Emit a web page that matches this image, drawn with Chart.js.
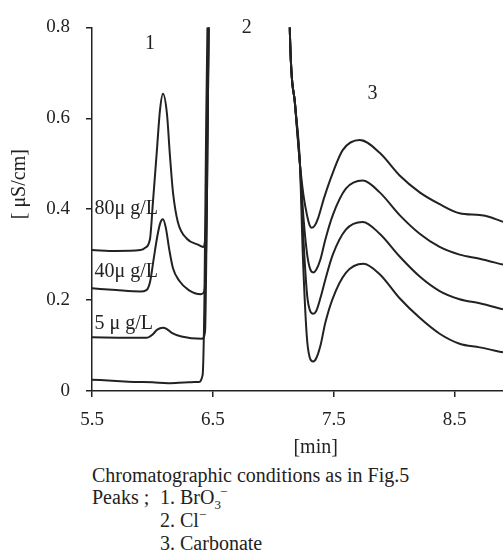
<!DOCTYPE html>
<html>
<head>
<meta charset="utf-8">
<script src="https://cdn.jsdelivr.net/npm/chart.js@4.4.0/dist/chart.umd.min.js"></script>
<style>
  body { margin: 0; background: #fff; }
  #wrap { position: relative; width: 503px; height: 553px; font-family: "Liberation Serif", "DejaVu Serif", serif; color: #222; }
  #chart { position: absolute; left: 0; top: 0; }
  .cap { position: absolute; font-size: 20px; line-height: 22px; white-space: nowrap; }
  .cap sub, .cap sup { font-size: 13px; line-height: 0; }
</style>
</head>
<body>
<div id="wrap">
  <canvas id="chart" width="503" height="460"></canvas>
  <div class="cap" style="left:92px; top:464px;">Chromatographic conditions as in Fig.5</div>
  <div class="cap" style="left:92px; top:486px;">Peaks ;</div>
  <div class="cap" style="left:160px; top:486px;">1. BrO<sub>3</sub><sup style="margin-left:-1px;">−</sup></div>
  <div class="cap" style="left:160px; top:509px;">2. Cl<sup>−</sup></div>
  <div class="cap" style="left:160px; top:532px;">3. Carbonate</div>
</div>
<script>
// retention time [min] and conductivity [uS/cm]
// values above 0.8 are the off-scale chloride peak
const tBlank = [5.5, 5.7, 5.85, 6.0, 6.13, 6.3, 6.38, 6.415, 6.43, 6.445, 6.46, 6.5,
  7.1, 7.136, 7.18, 7.22, 7.244, 7.277, 7.3, 7.33, 7.355, 7.39, 7.43, 7.492, 7.6, 7.745, 7.88, 8.045, 8.211, 8.376, 8.541, 8.707, 8.9];
const yBlank = [0.025, 0.022, 0.02, 0.019, 0.017, 0.019, 0.02, 0.035, 0.2, 0.6, 0.9, 1.5,
  1.5, 0.8, 0.63, 0.5, 0.3, 0.12, 0.075, 0.065, 0.072, 0.1, 0.15, 0.204, 0.26, 0.28, 0.257, 0.204, 0.161, 0.126, 0.104, 0.096, 0.085];

const t5 = [5.5, 5.8, 5.95, 6.0, 6.04, 6.087, 6.12, 6.16, 6.24, 6.41, 6.435, 6.45, 6.465, 6.5,
  7.1, 7.136, 7.18, 7.22, 7.25, 7.28, 7.305, 7.33, 7.355, 7.39, 7.43, 7.492, 7.6, 7.74, 7.88, 8.045, 8.211, 8.376, 8.541, 8.707, 8.9];
const y5 = [0.118, 0.117, 0.117, 0.124, 0.135, 0.139, 0.136, 0.128, 0.12, 0.115, 0.13, 0.4, 0.8, 1.5,
  1.5, 0.8, 0.63, 0.5, 0.33, 0.21, 0.176, 0.17, 0.176, 0.205, 0.245, 0.3, 0.355, 0.372, 0.346, 0.296, 0.252, 0.22, 0.202, 0.193, 0.18];

const t40 = [5.5, 5.7, 5.9, 5.95, 5.98, 6.01, 6.04, 6.065, 6.087, 6.11, 6.14, 6.17, 6.22, 6.3, 6.4, 6.43, 6.45, 6.465, 6.5,
  7.1, 7.136, 7.18, 7.22, 7.25, 7.28, 7.305, 7.33, 7.355, 7.39, 7.43, 7.492, 7.6, 7.74, 7.88, 8.045, 8.211, 8.376, 8.541, 8.707, 8.9];
const y40 = [0.226, 0.222, 0.219, 0.222, 0.24, 0.29, 0.34, 0.37, 0.378, 0.36, 0.31, 0.27, 0.243, 0.222, 0.213, 0.22, 0.4, 0.8, 1.5,
  1.5, 0.8, 0.63, 0.5, 0.38, 0.3, 0.268, 0.261, 0.267, 0.29, 0.333, 0.387, 0.445, 0.463, 0.437, 0.387, 0.346, 0.317, 0.3, 0.291, 0.278];

const t80 = [5.5, 5.7, 5.9, 5.94, 5.98, 6.004, 6.037, 6.062, 6.087, 6.12, 6.145, 6.17, 6.21, 6.285, 6.376, 6.42, 6.44, 6.455, 6.47, 6.5,
  7.1, 7.136, 7.18, 7.22, 7.25, 7.28, 7.3, 7.316, 7.34, 7.37, 7.42, 7.492, 7.574, 7.715, 7.88, 8.045, 8.211, 8.376, 8.541, 8.707, 8.789, 8.9];
const y80 = [0.31, 0.308, 0.31, 0.315, 0.335, 0.415, 0.53, 0.617, 0.654, 0.61, 0.517, 0.437, 0.372, 0.335, 0.322, 0.317, 0.35, 0.6, 0.9, 1.5,
  1.5, 0.8, 0.63, 0.5, 0.43, 0.385, 0.365, 0.359, 0.363, 0.38, 0.425, 0.48, 0.53, 0.552, 0.524, 0.474, 0.437, 0.411, 0.391, 0.387, 0.383, 0.372];

const xTicks = [5.5, 6.5, 7.5, 8.5];
const yTicks = [0, 0.2, 0.4, 0.6, 0.8];

const INK = '#222';
const SERIF = '"Liberation Serif", "DejaVu Serif", serif';

// text placed in data coordinates
const labels = [
  { text: '1', x: 5.98, y: 0.763, align: 'center' },
  { text: '2', x: 6.78, y: 0.8, align: 'center' },
  { text: '3', x: 7.82, y: 0.654, align: 'center' },
  { text: '80\u03bc g/L', x: 5.52, y: 0.402, align: 'left' },
  { text: '40\u03bc g/L', x: 5.52, y: 0.263, align: 'left' },
  { text: '5 \u03bc g/L', x: 5.52, y: 0.148, align: 'left' }
];

function toPoints(ts, ys) {
  return ts.map((t, i) => ({ x: t, y: ys[i] }));
}

function trace(ts, ys) {
  return {
    data: toPoints(ts, ys),
    borderColor: INK,
    borderWidth: 2,
    pointRadius: 0,
    cubicInterpolationMode: 'monotone',
    clip: 0
  };
}

const textPlugin = {
  id: 'textLabels',
  afterDraw(chart) {
    const ctx = chart.ctx;
    const xs = chart.scales.x, ys = chart.scales.y;
    ctx.save();
    ctx.fillStyle = INK;
    ctx.font = '20px ' + SERIF;
    ctx.textBaseline = 'middle';
    labels.forEach(l => {
      ctx.textAlign = l.align;
      ctx.fillText(l.text, xs.getPixelForValue(l.x), ys.getPixelForValue(l.y));
    });
    // axis titles
    ctx.textAlign = 'center';
    ctx.fillText('[min]', xs.getPixelForValue(7.35), chart.chartArea.bottom + 57);
    ctx.translate(20, ys.getPixelForValue(0.455));
    ctx.rotate(-Math.PI / 2);
    ctx.fillText('[ \u03bcS/cm]', 0, 0);
    ctx.restore();
  }
};

new Chart(document.getElementById('chart'), {
  type: 'line',
  data: {
    datasets: [
      trace(tBlank, yBlank),
      trace(t5, y5),
      trace(t40, y40),
      trace(t80, y80)
    ]
  },
  options: {
    responsive: false,
    animation: false,
    devicePixelRatio: 1,
    layout: { padding: { left: 0, right: 0, top: 23, bottom: 0 } },
    plugins: { legend: { display: false }, tooltip: { enabled: false } },
    scales: {
      x: {
        type: 'linear',
        min: 5.5,
        max: 8.9,
        afterBuildTicks: s => { s.ticks = xTicks.map(v => ({ value: v })); },
        afterFit: s => { s.height = 69; },
        grid: { drawOnChartArea: false, drawTicks: true, tickLength: 6, color: INK, lineWidth: 1.5 },
        border: { display: true, color: INK, width: 1.5 },
        ticks: { color: INK, font: { family: SERIF, size: 19 }, padding: 12, maxRotation: 0 }
      },
      y: {
        min: 0,
        max: 0.8,
        afterBuildTicks: s => { s.ticks = yTicks.map(v => ({ value: v })); },
        afterFit: s => { s.width = 92; },
        grid: { drawOnChartArea: false, drawTicks: true, tickLength: 6, color: INK, lineWidth: 1.5 },
        border: { display: true, color: INK, width: 1.5 },
        ticks: {
          color: INK, font: { family: SERIF, size: 19 }, padding: 16,
          callback: v => v === 0 ? '0' : v.toFixed(1)
        }
      }
    }
  },
  plugins: [textPlugin]
});
</script>
</body>
</html>
